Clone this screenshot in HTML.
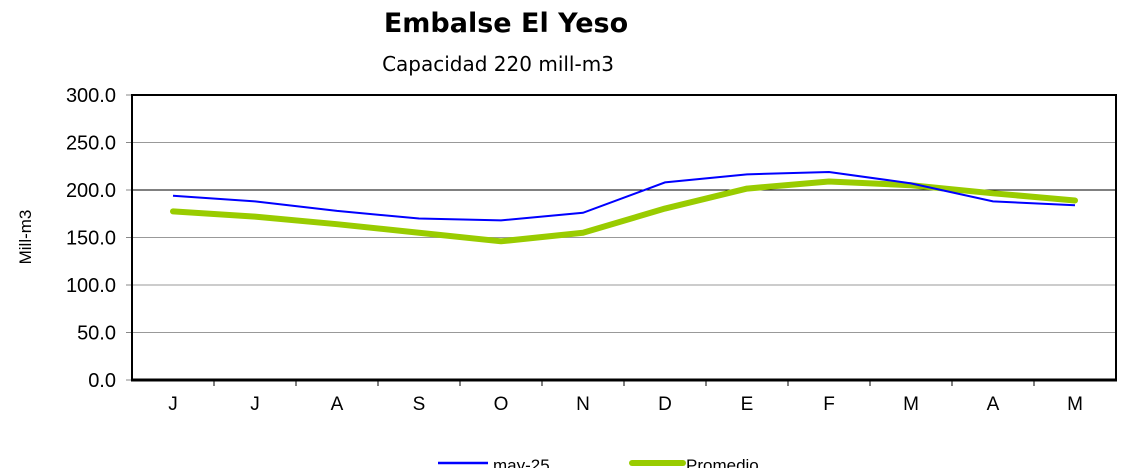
<!DOCTYPE html>
<html><head><meta charset="utf-8"><style>
body{margin:0;background:#fff;}
svg text{font-family:"Liberation Sans",sans-serif;}
</style></head><body>
<svg width="1136" height="468" viewBox="0 0 1136 468">
<text x="506" y="32" text-anchor="middle" font-size="27" font-weight="bold" style="font-family:'DejaVu Sans',sans-serif">Embalse El Yeso</text>
<text x="498" y="71" text-anchor="middle" font-size="20" style="font-family:'DejaVu Sans',sans-serif">Capacidad 220 mill-m3</text>
<text transform="translate(31,237) rotate(-90)" text-anchor="middle" font-size="17">Mill-m3</text>
<g id="grid"></g>
<g id="series"></g>
<g>
<line x1="438" y1="463" x2="488" y2="463" stroke="#0000ff" stroke-width="2.5"/>
<text x="493" y="471" font-size="17">may-25</text>
<line x1="632" y1="463" x2="683" y2="463" stroke="#99cc00" stroke-width="6" stroke-linecap="round"/>
<text x="686" y="471" font-size="17">Promedio</text>
</g>
</svg>
<script>
const categories=["J","J","A","S","O","N","D","E","F","M","A","M"];
const seriesMay25=[194,188,178,170,168,176,208,216.5,219,207,188,184];
const seriesPromedio=[177.5,172,164,155,146,155,180.5,201.5,209,205,196.5,189];
const yTicks=[0,50,100,150,200,250,300];
const yTickLabels=["0.0","50.0","100.0","150.0","200.0","250.0","300.0"];
const L=132,R=1116,T=95,B=380,NS="http://www.w3.org/2000/svg";
const y=v=>B-(v/300)*(B-T);
const x=i=>L+(i+0.5)*(R-L)/categories.length;
function mk(tag,attrs,parent){const e=document.createElementNS(NS,tag);for(const k in attrs)e.setAttribute(k,attrs[k]);parent.appendChild(e);return e;}
const g=document.getElementById('grid');
yTicks.forEach((v,i)=>{
  if(v>0&&v<300){const l=mk('line',{x1:L,x2:R,y1:y(v),y2:y(v),stroke:v===200?'#000':'#999','stroke-width':1},g);
  
  }
  const tk=mk('line',{x1:L-6,x2:L,y1:y(v),y2:y(v),stroke:'#888'},g);
  
  
  const t=mk('text',{x:L-16,y:y(v)+7,'text-anchor':'end','font-size':20},g);
  t.textContent=yTickLabels[i];
  
  
});
categories.forEach((c,i)=>{
  const t=mk('text',{x:x(i),y:410,'text-anchor':'middle','font-size':19},g);
  t.textContent=c;
  
  
  if(i>0){const tk=mk('line',{x1:L+i*(R-L)/12,x2:L+i*(R-L)/12,y1:B,y2:B+6,stroke:'#000'},g);
  
  }
});
const fr=mk('rect',{x:L,y:T,width:R-L,height:B-T,fill:'none',stroke:'#000','stroke-width':2},g);


const ax=mk('line',{x1:L-1,x2:R+1,y1:B,y2:B,stroke:'#000','stroke-width':3},g);


const s=document.getElementById('series');
const p2=mk('polyline',{points:seriesPromedio.map((v,i)=>x(i)+','+y(v)).join(' '),fill:'none',stroke:'#99cc00','stroke-width':6,'stroke-linecap':'round','stroke-linejoin':'round'},s);


const p1=mk('polyline',{points:seriesMay25.map((v,i)=>x(i)+','+y(v)).join(' '),fill:'none',stroke:'#0000ff','stroke-width':2},s);


</script>
</body></html>
